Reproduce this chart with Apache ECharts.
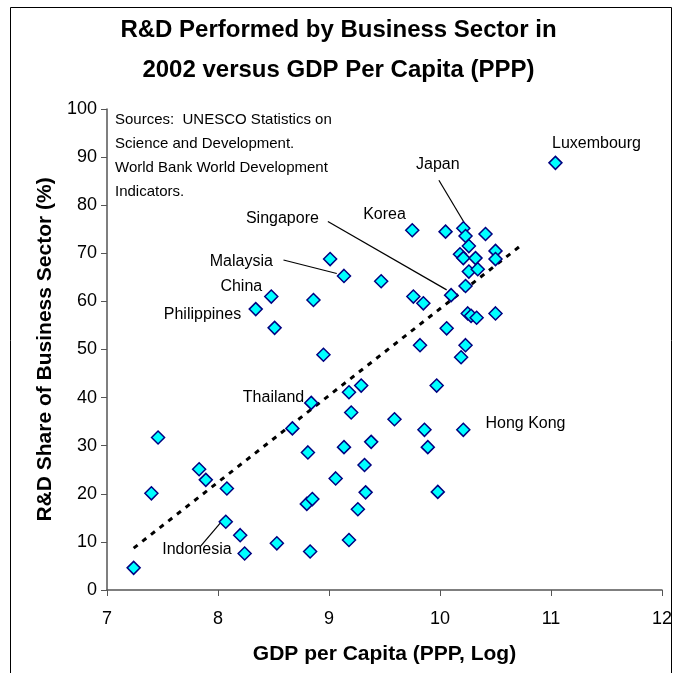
<!DOCTYPE html>
<html>
<head>
<meta charset="utf-8">
<script src="https://cdn.jsdelivr.net/npm/echarts@6/dist/echarts.min.js"></script>
<style>
  html, body { margin: 0; padding: 0; background: #fff; }
  #chart { width: 677px; height: 673px; }
</style>
</head>
<body>
<div id="chart"></div>
<script>
// GDP per capita (log) and business share of R&D
var gdpLog = [
  11.04, 9.75, 10.05, 10.21, 10.23, 10.41, 10.26, 10.18, 10.21, 10.32,
  10.50, 10.50, 10.26, 10.34, 10.23, 10.10, 9.76, 9.85, 10.25, 10.28,
  10.33, 10.50, 10.06, 9.82, 10.23, 10.19, 9.01, 9.135, 9.47, 8.86,
  8.95, 9.29, 9.18, 8.84, 9.20, 9.59, 8.48, 8.34, 8.51, 8.67,
  7.46, 8.81, 7.83, 7.89, 7.40, 8.08, 8.80, 8.85, 8.07, 8.20,
  8.53, 8.24, 8.83, 7.24, 9.97, 9.86, 10.21, 9.135, 9.38, 9.89,
  9.32, 9.06, 9.33, 9.98, 9.26, 9.18
];
var rdShare = [
  88.8, 74.8, 74.5, 75.2, 73.6, 74.0, 71.5, 69.8, 69.0, 69.0,
  70.5, 68.8, 66.2, 66.7, 63.2, 61.3, 61.0, 59.6, 57.5, 57.0,
  56.6, 57.5, 54.4, 50.9, 50.9, 48.4, 68.8, 65.3, 64.2, 60.3,
  48.9, 42.5, 41.1, 38.9, 36.9, 35.5, 61.0, 58.4, 54.5, 33.6,
  31.7, 28.6, 25.1, 22.9, 20.1, 21.1, 17.9, 18.9, 14.2, 11.4,
  9.7, 7.6, 8.0, 4.6, 42.5, 33.3, 33.3, 29.7, 30.8, 29.7,
  26.0, 23.2, 20.3, 20.4, 16.8, 10.4
];

// dotted trend line, two ends
var trendX = [7.24, 10.75];
var trendY = [8.7, 72.0];

// country labels
var labelNames = ['Luxembourg', 'Japan', 'Korea', 'Singapore', 'Malaysia', 'China', 'Philippines', 'Thailand', 'Hong Kong', 'Indonesia'];
var labelX = [11.41, 9.98, 9.50, 8.58, 8.21, 8.21, 7.86, 8.50, 10.77, 7.81];
var labelY = [92.9, 88.4, 78.0, 77.3, 68.2, 63.0, 57.2, 39.9, 34.5, 8.5];

// leader lines: [x1, y1, x2, y2]
var leaders = [
  [9.99, 85.2, 10.22, 76.3],   // Japan
  [8.99, 76.6, 10.06, 62.4],   // Singapore
  [8.59, 68.6, 9.07, 65.8],    // Malaysia
  [7.84, 9.0, 8.02, 13.9]      // Indonesia
];

var font = 'Liberation Sans, Arial, sans-serif';
var myChart = echarts.init(document.getElementById('chart'));

var points = gdpLog.map(function (x, i) { return [x, rdShare[i]]; });
var trend = trendX.map(function (x, i) { return [x, trendY[i]]; });
var labels = labelNames.map(function (n, i) { return [labelX[i], labelY[i], i]; });
var leaderData = leaders.map(function (l) { return { coords: [[l[0], l[1]], [l[2], l[3]]] }; });

var option = {
  animation: false,
  backgroundColor: '#fff',
  textStyle: { fontFamily: font },
  grid: { left: 107, top: 109, right: 15, bottom: 83 },
  graphic: [
    {
      type: 'rect', left: 8, top: 5, silent: true,
      shape: { width: 661, height: 680 },
      style: { fill: 'none', stroke: '#000', lineWidth: 1 }
    },
    {
      type: 'text', left: 'center', top: 10,
      style: {
        text: 'R&D Performed by Business Sector in\n2002 versus GDP Per Capita (PPP)',
        font: 'bold 24px ' + font, fill: '#000', textAlign: 'center', lineHeight: 40
      }
    },
    {
      type: 'text', left: 115, top: 108,
      style: {
        text: 'Sources:  UNESCO Statistics on\nScience and Development.\nWorld Bank World Development\nIndicators.',
        font: '15px ' + font, fill: '#000', lineHeight: 24
      }
    }
  ],
  xAxis: {
    type: 'value', min: 7, max: 12, interval: 1,
    name: 'GDP per Capita (PPP, Log)', nameLocation: 'middle', nameGap: 54,
    nameTextStyle: { fontSize: 21, fontWeight: 'bold', color: '#000' },
    axisLine: { lineStyle: { color: '#555', width: 1.5 } },
    axisTick: { show: true, inside: false, length: 6, lineStyle: { color: '#555' } },
    axisLabel: { fontSize: 18, color: '#000', margin: 20 },
    splitLine: { show: false }
  },
  yAxis: {
    type: 'value', min: 0, max: 100, interval: 10,
    name: 'R&D Share of Business Sector (%)', nameLocation: 'middle', nameGap: 49,
    nameTextStyle: { fontSize: 21, fontWeight: 'bold', color: '#000' },
    axisLine: { show: true, lineStyle: { color: '#555', width: 1.5 } },
    axisTick: { show: true, inside: false, length: 6, lineStyle: { color: '#555' } },
    axisLabel: { fontSize: 18, color: '#000', margin: 10 },
    splitLine: { show: false }
  },
  series: [
    {
      type: 'line', data: trend, symbol: 'none', silent: true, z: 1,
      lineStyle: { color: '#000', width: 3, type: [5, 6] }
    },
    {
      type: 'lines', coordinateSystem: 'cartesian2d', data: leaderData, silent: true, z: 1,
      lineStyle: { color: '#000', width: 1.2, opacity: 1 }
    },
    {
      type: 'scatter', data: points, symbol: 'diamond', symbolSize: 13, z: 3,
      itemStyle: { color: '#00ffff', borderColor: '#000080', borderWidth: 1.5, opacity: 1 }
    },
    {
      type: 'custom', data: labels, silent: true, z: 4,
      renderItem: function (params, api) {
        var pt = api.coord([api.value(0), api.value(1)]);
        return {
          type: 'text', x: pt[0], y: pt[1],
          style: {
            text: labelNames[api.value(2)], fill: '#000', font: '16px ' + font,
            textAlign: 'center', textVerticalAlign: 'middle'
          }
        };
      }
    }
  ]
};
option && myChart.setOption(option);
</script>
</body>
</html>
